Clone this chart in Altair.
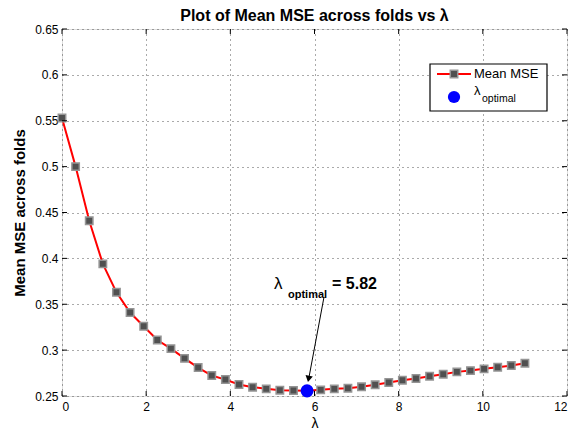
import altair as alt
import pandas as pd

# ---- data ----
lambdas = [0.0, 0.3235, 0.6471, 0.9706, 1.2941, 1.6176, 1.9412, 2.2647, 2.5882,
           2.9118, 3.2353, 3.5588, 3.8824, 4.2059, 4.5294, 4.8529, 5.1765, 5.5,
           5.8235, 6.1471, 6.4706, 6.7941, 7.1176, 7.4412, 7.7647, 8.0882,
           8.4118, 8.7353, 9.0588, 9.3824, 9.7059, 10.0294, 10.3529, 10.6765, 11.0]
mean_mse = [0.553, 0.500, 0.441, 0.394, 0.363, 0.341, 0.326, 0.311, 0.3016,
            0.291, 0.281, 0.2723, 0.2679, 0.2625, 0.2596, 0.2578, 0.2563, 0.2560,
            0.2556, 0.2567, 0.2578, 0.2585, 0.2600, 0.2622, 0.2647, 0.2672,
            0.2690, 0.2715, 0.2737, 0.2763, 0.2777, 0.2796, 0.2813, 0.2832, 0.2857]
lambda_opt = [5.8235]
mse_opt = [0.2556]
x_ticks = [0, 2, 4, 6, 8, 10, 12]
y_ticks = [0.25, 0.3, 0.35, 0.4, 0.45, 0.5, 0.55, 0.6, 0.65]

W, H = 505, 367
FONT = "Liberation Sans"

df = pd.DataFrame({"lam": lambdas, "mse": mean_mse})
opt = pd.DataFrame({"lam": lambda_opt, "mse": mse_opt})
xt = pd.DataFrame({"v": x_ticks})
yt = pd.DataFrame({"v": y_ticks})

xscale = alt.Scale(domain=[0, 12], nice=False, zero=False)
yscale = alt.Scale(domain=[0.25, 0.65], nice=False, zero=False)

xaxis = alt.Axis(values=x_ticks, format="d", title="λ", grid=True,
                 gridDash=[1, 4], gridColor="#555555", gridWidth=1,
                 ticks=False, domain=False, labelFont=FONT, labelFontSize=12,
                 labelColor="black", labelPadding=5, titleFont=FONT,
                 titleFontSize=14, titleFontWeight="normal", titleColor="black",
                 titlePadding=4)
yaxis = alt.Axis(values=y_ticks, format=".4~f", title="Mean MSE across folds",
                 grid=True, gridDash=[1, 4], gridColor="#555555", gridWidth=1,
                 ticks=False, domain=False, labelFont=FONT, labelFontSize=12,
                 labelColor="black", labelPadding=4, titleFont=FONT,
                 titleFontSize=15, titleFontWeight="bold", titleColor="black",
                 titlePadding=7)

line = alt.Chart(df).mark_line(color="red", strokeWidth=2).encode(
    x=alt.X("lam:Q", scale=xscale, axis=xaxis),
    y=alt.Y("mse:Q", scale=yscale, axis=yaxis),
)
squares = alt.Chart(df).mark_point(shape="square", filled=True, size=55,
                                   color="#505050", stroke="#959595",
                                   strokeWidth=1.5, opacity=1).encode(
    x=alt.X("lam:Q", scale=xscale), y=alt.Y("mse:Q", scale=yscale))
optpt = alt.Chart(opt).mark_point(shape="circle", filled=True, size=170,
                                  color="blue", opacity=1).encode(
    x=alt.X("lam:Q", scale=xscale), y=alt.Y("mse:Q", scale=yscale))

# inward ticks (MATLAB style)
tb = alt.Chart(xt).mark_rule(color="black").encode(
    x=alt.X("v:Q", scale=xscale), y=alt.value(H), y2=alt.value(H - 5))
tt = alt.Chart(xt).mark_rule(color="black").encode(
    x=alt.X("v:Q", scale=xscale), y=alt.value(0), y2=alt.value(5))
tl = alt.Chart(yt).mark_rule(color="black").encode(
    y=alt.Y("v:Q", scale=yscale), x=alt.value(0), x2=alt.value(5))
tr = alt.Chart(yt).mark_rule(color="black").encode(
    y=alt.Y("v:Q", scale=yscale), x=alt.value(W), x2=alt.value(W - 5))

# annotation arrow
arrow = alt.Chart(opt).mark_rule(color="black", strokeWidth=1,
                                 yOffset=-14, xOffset=2).encode(
    x=alt.X("lam:Q", scale=xscale), y=alt.Y("mse:Q", scale=yscale),
    x2=alt.value(262), y2=alt.value(268))
head = alt.Chart(opt).mark_point(shape="triangle-down", filled=True, size=55,
                                 color="black", opacity=1, angle=11,
                                 yOffset=-12, xOffset=1.5).encode(
    x=alt.X("lam:Q", scale=xscale), y=alt.Y("mse:Q", scale=yscale))

ann_l = alt.Chart(opt).mark_text(text="λ", font=FONT, fontSize=17, align="left",
                                 baseline="middle", color="black").encode(
    x=alt.value(212), y=alt.value(255))
ann_sub = alt.Chart(opt).mark_text(text="optimal", font=FONT, fontSize=11,
                                   fontWeight="bold", align="left",
                                   baseline="middle", color="black").encode(
    x=alt.value(226), y=alt.value(266))
ann_val = alt.Chart(opt).mark_text(text="= 5.82", font=FONT, fontSize=16,
                                   fontWeight="bold", align="left",
                                   baseline="middle", color="black").encode(
    x=alt.value(270), y=alt.value(255))

# legend
leg_box = alt.Chart(opt).mark_rect(fill="white", stroke="black", strokeWidth=1.2).encode(
    x=alt.value(368), x2=alt.value(485), y=alt.value(35), y2=alt.value(82))
leg_line = alt.Chart(opt).mark_rule(color="red", strokeWidth=2).encode(
    x=alt.value(375), x2=alt.value(409), y=alt.value(45))
leg_sq = alt.Chart(opt).mark_point(shape="square", filled=True, size=55,
                                   color="#505050", stroke="#959595",
                                   strokeWidth=1.5, opacity=1).encode(
    x=alt.value(392), y=alt.value(45))
leg_txt = alt.Chart(opt).mark_text(text="Mean MSE", font=FONT, fontSize=13,
                                   align="left", baseline="middle",
                                   color="black").encode(
    x=alt.value(412), y=alt.value(45))
leg_dot = alt.Chart(opt).mark_point(shape="circle", filled=True, size=150,
                                    color="blue", opacity=1).encode(
    x=alt.value(392), y=alt.value(68))
leg_l = alt.Chart(opt).mark_text(text="λ", font=FONT, fontSize=13, align="left",
                                 baseline="middle", color="black").encode(
    x=alt.value(412), y=alt.value(62))
leg_sub = alt.Chart(opt).mark_text(text="optimal", font=FONT, fontSize=10.5,
                                   align="left", baseline="middle",
                                   color="black").encode(
    x=alt.value(420), y=alt.value(70))

chart = alt.layer(
    line, squares, optpt, tb, tt, tl, tr, arrow, head, ann_l, ann_sub, ann_val,
    leg_box, leg_line, leg_sq, leg_txt, leg_dot, leg_l, leg_sub
).properties(
    width=W, height=H,
    autosize=alt.AutoSizeParams(type="none"),
    padding={"left": 54, "top": 21, "right": 2, "bottom": 37},
    title=alt.TitleParams("Plot of Mean MSE across folds vs λ", font=FONT,
                          fontSize=16, fontWeight="bold", color="black",
                          anchor="middle", offset=-1),
).configure_view(stroke="black", strokeWidth=1.2).configure(background="white")

chart.save("out.html", embed_options={"renderer": "svg", "actions": False})
